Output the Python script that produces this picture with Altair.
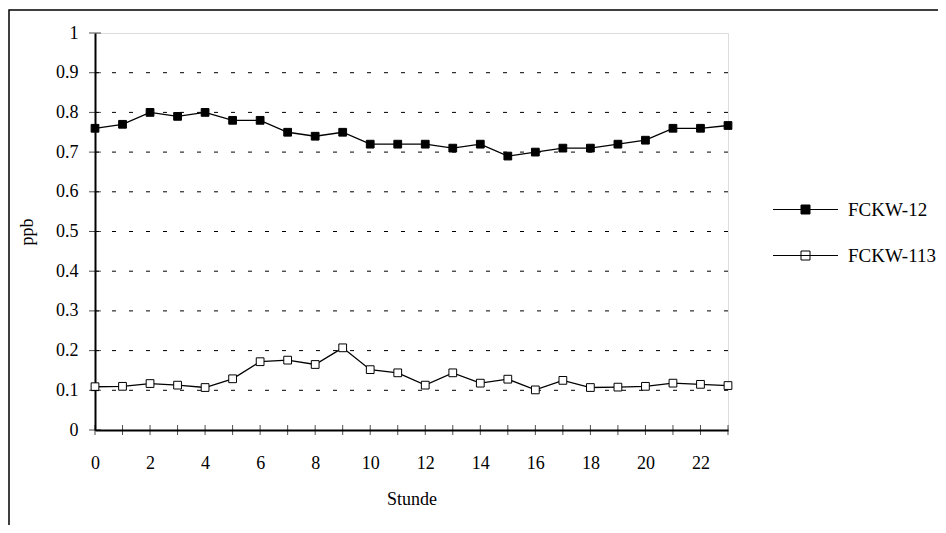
import altair as alt
import pandas as pd

hours = list(range(24))
fckw12 = [0.76, 0.77, 0.80, 0.79, 0.80, 0.78, 0.78, 0.75, 0.74, 0.75, 0.72, 0.72,
          0.72, 0.71, 0.72, 0.69, 0.70, 0.71, 0.71, 0.72, 0.73, 0.76, 0.76, 0.767]
fckw113 = [0.109, 0.110, 0.117, 0.113, 0.107, 0.129, 0.172, 0.176, 0.165, 0.207, 0.152, 0.144,
           0.113, 0.144, 0.118, 0.128, 0.101, 0.125, 0.107, 0.108, 0.110, 0.118, 0.115, 0.112]
series_names = ["FCKW-12", "FCKW-113"]
x_label_values = [0, 2, 4, 6, 8, 10, 12, 14, 16, 18, 20, 22]
y_tick_values = [0, 0.1, 0.2, 0.3, 0.4, 0.5, 0.6, 0.7, 0.8, 0.9, 1]

df = pd.DataFrame({
    "Stunde": hours * 2,
    "ppb": fckw12 + fckw113,
    "series": [series_names[0]] * 24 + [series_names[1]] * 24,
})
xt = pd.DataFrame({"h": hours})
yt = pd.DataFrame({"v": y_tick_values})

FONT = "Liberation Serif"

xscale = alt.Scale(domain=[0, 23], nice=False, zero=False)
yscale = alt.Scale(domain=[0, 1], nice=False)

x_axis = alt.Axis(
    values=x_label_values, ticks=False, grid=False, domainWidth=2, domainColor="black",
    labelFont=FONT, labelFontSize=18, labelColor="black", labelPadding=24,
    labelFlush=False, labelOverlap=False,
    title="Stunde", titleFont=FONT, titleFontSize=18, titleFontWeight="normal",
    titleColor="black", titlePadding=18)
y_axis = alt.Axis(
    values=y_tick_values, format=".1~f", ticks=False, domainWidth=2, domainColor="black",
    grid=False, labelOverlap=False, labelFlush=False,
    labelFont=FONT, labelFontSize=18, labelColor="black", labelPadding=17,
    title="ppb", titleFont=FONT, titleFontSize=18, titleFontWeight="normal",
    titleColor="black", titlePadding=19)

legend_path = "M-3.25,0H3.25M-0.45,-0.45H0.45V0.45H-0.45Z"

grid = alt.Chart(yt).transform_filter("datum.v > 0 && datum.v < 1").mark_rule(
    color="black", strokeWidth=1, strokeDash=[4, 13]).encode(
    y=alt.Y("v:Q", scale=yscale, axis=y_axis))

lines = alt.Chart(df).mark_line(color="black", strokeWidth=1.3).encode(
    x=alt.X("Stunde:Q", scale=xscale, axis=x_axis),
    y=alt.Y("ppb:Q", scale=yscale, axis=y_axis),
    detail="series:N")

points = alt.Chart(df).mark_point(shape="square", filled=True, size=60, stroke="black",
                                  strokeWidth=1, opacity=1).encode(
    x=alt.X("Stunde:Q", scale=xscale, axis=x_axis),
    y=alt.Y("ppb:Q", scale=yscale, axis=y_axis),
    fill=alt.Fill("series:N", scale=alt.Scale(domain=series_names, range=["black", "white"]),
                  legend=alt.Legend(title=None, orient="none", legendX=700, legendY=166,
                                    symbolType=legend_path, symbolSize=400,
                                    symbolStrokeColor="black", symbolStrokeWidth=1,
                                    labelFont=FONT, labelFontSize=19, labelColor="black",
                                    labelOffset=32, rowPadding=25, padding=0)))

xticks = alt.Chart(xt).mark_tick(orient="vertical", color="black", size=10, thickness=1).encode(
    x=alt.X("h:Q", scale=xscale, axis=x_axis),
    y=alt.YDatum(0, type="quantitative", scale=yscale, axis=y_axis))
yticks = alt.Chart(yt).mark_tick(orient="horizontal", color="black", size=12, thickness=1).encode(
    y=alt.Y("v:Q", scale=yscale, axis=y_axis),
    x=alt.XDatum(0, type="quantitative", scale=xscale, axis=x_axis))

frame = alt.Chart(pd.DataFrame({"a": [0]})).mark_rect(
    fill=None, stroke="black", strokeWidth=1.5, clip=False).encode(
    x=alt.value(-86), x2=alt.value(2000), y=alt.value(-23), y2=alt.value(2000))

chart = alt.layer(frame, grid, lines, points, xticks, yticks).properties(
    width=633, height=397,
    autosize=alt.AutoSizeParams(type="none"),
    padding={"left": 87, "top": 25, "right": 210, "bottom": 95},
).configure_view(stroke="black", strokeWidth=1).configure(
    background="white"
)

chart.save("out.html", embed_options={"renderer": "svg", "actions": False})
